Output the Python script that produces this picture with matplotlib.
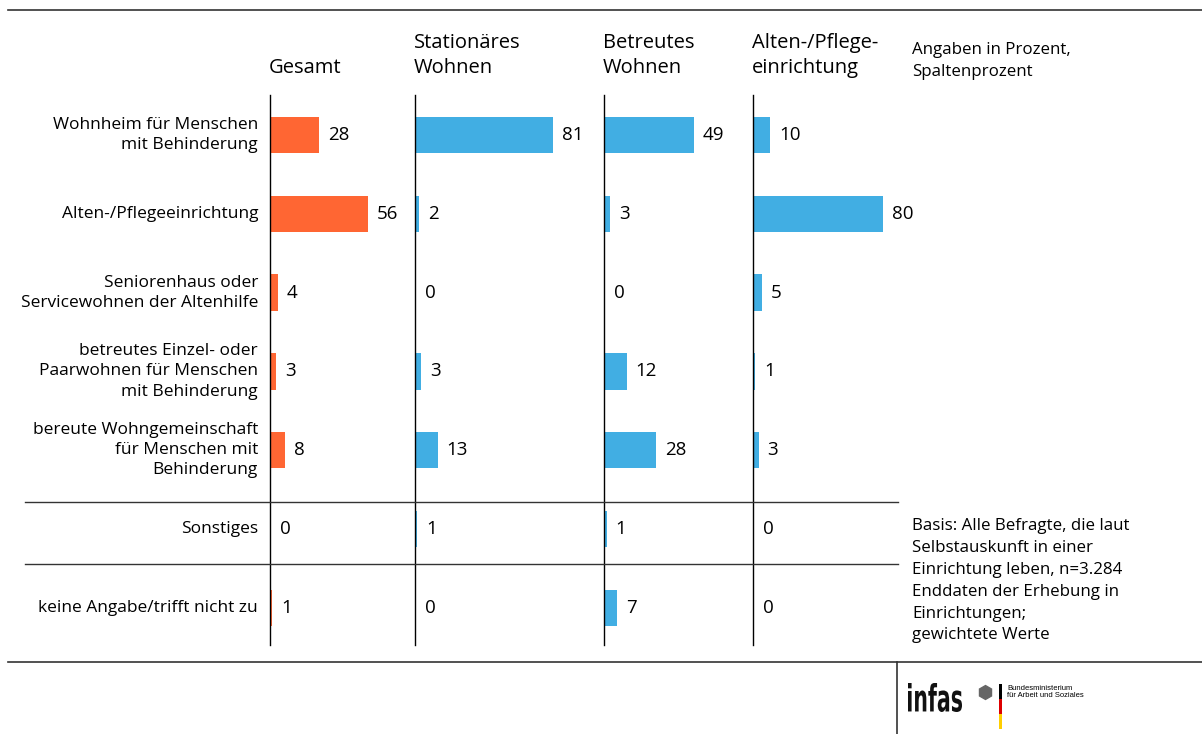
import matplotlib
matplotlib.use("Agg")
from matplotlib import pyplot as plt
from matplotlib import transforms
from matplotlib.lines import Line2D
from matplotlib.patches import Rectangle, PathPatch
from matplotlib.textpath import TextPath
from matplotlib.font_manager import FontProperties

plt.rcParams['font.family'] = ['Open Sans', 'DejaVu Sans']

# data
categories = ["Wohnheim für Menschen\nmit Behinderung",
              "Alten-/Pflegeeinrichtung",
              "Seniorenhaus oder\nServicewohnen der Altenhilfe",
              "betreutes Einzel- oder\nPaarwohnen für Menschen\nmit Behinderung",
              "bereute Wohngemeinschaft\nfür Menschen mit\nBehinderung",
              "Sonstiges",
              "keine Angabe/trifft nicht zu"]
headers = ["Gesamt", "Stationäres\nWohnen", "Betreutes\nWohnen", "Alten-/Pflege-\neinrichtung"]
gesamt = [28, 56, 4, 3, 8, 0, 1]
stationaer = [81, 2, 0, 3, 13, 1, 0]
betreut = [49, 3, 0, 12, 28, 1, 7]
alten = [10, 80, 5, 1, 3, 0, 0]
series = [gesamt, stationaer, betreut, alten]

note_top = "Angaben in Prozent,\nSpaltenprozent"
note_basis = ("Basis: Alle Befragte, die laut\nSelbstauskunft in einer\n"
              "Einrichtung leben, n=3.284\nEnddaten der Erhebung in\n"
              "Einrichtungen;\ngewichtete Werte")

# layout (pixels)
W, H = 1202, 734
def fx(x):
    return x / W
def fy(y):
    return 1 - y / H

orange = '#ff6633'
blue = '#41aee3'
col_x = [270, 415, 604, 753]
col_w = [145, 189, 149, 147]
col_scale = [1.74, 1.69, 1.82, 1.61]  # px per percent
col_color = [orange, blue, blue, blue]
top_px, bot_px = 95, 645
row0, row_step = 135, 78.8

fig = plt.figure(figsize=(W / 100, H / 100), dpi=100)

n = len(categories)
ylo = (top_px - row0) / row_step
yhi = (bot_px - row0) / row_step

axes = []
for k in range(4):
    ax = fig.add_axes([fx(col_x[k]), fy(bot_px), col_w[k] / W, (bot_px - top_px) / H])
    ax.set_xlim(0, col_w[k] / col_scale[k])
    ax.set_ylim(yhi, ylo)
    ax.axis('off')
    vals = series[k]
    off = 0.7 / col_scale[k]  # start bars just right of the axis line
    ax.barh(range(n), vals, left=off, height=0.46, color=col_color[k], linewidth=0, zorder=2)
    ax.axvline(0, color='black', lw=1, clip_on=False, zorder=3)
    for i, v in enumerate(vals):
        ax.annotate(str(v), (v + off, i), xytext=(6.5, 0), textcoords='offset points',
                    va='center', ha='left', fontsize=13.5)
    fig.text(fx(col_x[k] - 1), fy(78), headers[k], ha='left', va='bottom',
             fontsize=14.5, linespacing=1.32)
    axes.append(ax)

# category labels
tr = transforms.blended_transform_factory(fig.transFigure, axes[0].transData)
for i, c in enumerate(categories):
    fig.text(fx(258), i, c, transform=tr, ha='right', va='center',
             fontsize=12.5, multialignment='right', linespacing=1.35)

# notes
fig.text(fx(912), fy(42), note_top, ha='left', va='top', fontsize=12.2, linespacing=1.52)
fig.text(fx(912), fy(518), note_basis, ha='left', va='top', fontsize=12.2, linespacing=1.49)

# rules
def hline(y, x0, x1, lw=1.2, color='#333333'):
    fig.add_artist(Line2D([fx(x0), fx(x1)], [fy(y), fy(y)], color=color, lw=lw))

hline(10, 8, 1202)
hline(662, 8, 1202)
hline(502, 25, 898, lw=1)
hline(564, 25, 898, lw=1)
fig.add_artist(Line2D([fx(897), fx(897)], [fy(662), fy(734)], color='#333333', lw=1.2))

# footer logos
tp = TextPath((0, 0), "infas", size=1, prop=FontProperties(family='DejaVu Sans', weight='bold'))
bb = tp.get_extents()
logo_tr = (transforms.Affine2D().translate(-bb.x0, -bb.y0)
           .scale(54 / bb.width, 29 / bb.height).translate(908, H - 712))
fig.add_artist(PathPatch(tp, transform=logo_tr, color='#111111', lw=0))
fig.add_artist(Line2D([fx(985)], [fy(692)], marker='h', markersize=10,
                      color='#666666', lw=0))
for y0, y1, c in [(684, 699, 'black'), (699, 714, '#dd0000'), (714, 729, '#ffce00')]:
    fig.add_artist(Rectangle((fx(999), fy(y1)), 3 / W, (y1 - y0) / H,
                             color=c, lw=0, transform=fig.transFigure))
fig.text(fx(1007), fy(692), "Bundesministerium\nfür Arbeit und Soziales", ha='left',
         va='center', fontsize=5.5, linespacing=1.1, family='Liberation Sans')

fig.savefig('out.png', dpi=100)
